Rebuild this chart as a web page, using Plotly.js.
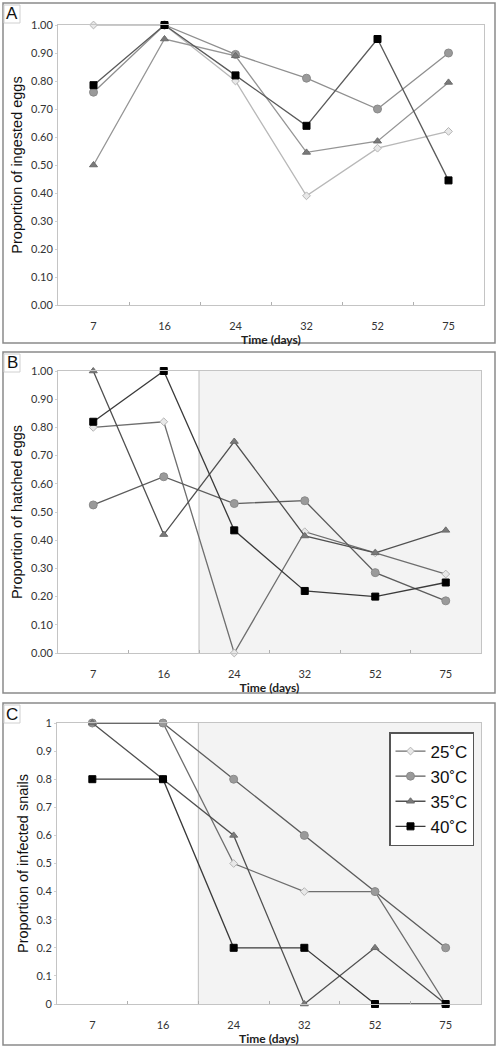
<!DOCTYPE html>
<html><head><meta charset="utf-8">
<script src="https://cdn.plot.ly/plotly-3.0.1.min.js"></script>
<style>html,body{margin:0;padding:0;background:#fff}#c{width:500px;height:1050px}</style>
</head><body><div id="c"></div>
<script>
const days = ["7","16","24","32","52","75"];
const seriesNames = ["25˚C","30˚C","35˚C","40˚C"];
// Panel A: proportion of ingested eggs
const ingested25 = [1.00, 1.00, 0.80, 0.39, 0.56, 0.62];
const ingested30 = [0.76, 1.00, 0.895, 0.81, 0.70, 0.90];
const ingested35 = [0.50, 0.95, 0.89, 0.545, 0.585, 0.795];
const ingested40 = [0.785, 1.00, 0.82, 0.64, 0.95, 0.445];
// Panel B: proportion of hatched eggs
const hatched25 = [0.80, 0.82, 0.00, 0.43, 0.355, 0.28];
const hatched30 = [0.525, 0.625, 0.53, 0.54, 0.285, 0.185];
const hatched35 = [1.00, 0.42, 0.75, 0.415, 0.355, 0.435];
const hatched40 = [0.82, 1.00, 0.435, 0.22, 0.20, 0.25];
// Panel C: proportion of infected snails
const infected25 = [1, 1, 0.5, 0.4, 0.4, 0];
const infected30 = [1, 1, 0.8, 0.6, 0.4, 0.2];
const infected35 = [1, 0.8, 0.6, 0, 0.2, 0];
const infected40 = [0.8, 0.8, 0.2, 0.2, 0, 0];

const markerStyles = [
  {symbol:"diamond", size:6, color:"#e8e8e8", line:{color:"#b5b5b5", width:1}},
  {symbol:"circle", size:8, color:"#9a9a9a", line:{color:"#8a8a8a", width:1}},
  {symbol:"triangle-up", size:7, color:"#7a7a7a", line:{color:"#6a6a6a", width:1}},
  {symbol:"square", size:7, color:"#000000", line:{color:"#000000", width:1}}
];
const lineA = ["#b8b8b8","#8f8f8f","#959595","#5a5a5a"];
const lineBC = ["#6e6e6e","#5c5c5c","#505050","#3a3a3a"];

const panels = [
  {data:[ingested25,ingested30,ingested35,ingested40], lines:lineA, ax:""},
  {data:[hatched25,hatched30,hatched35,hatched40], lines:lineBC, ax:"2"},
  {data:[infected25,infected30,infected35,infected40], lines:lineBC, ax:"3"}
];
const traces = [];
panels.forEach((p, pi) => {
  p.data.forEach((vals, si) => {
    traces.push({
      type:"scatter", mode:"lines+markers", x:days, y:vals,
      xaxis:"x"+p.ax, yaxis:"y"+p.ax, name:seriesNames[si],
      showlegend: pi === 2, cliponaxis:false,
      line:{color:p.lines[si], width:1.3},
      marker:markerStyles[si]
    });
  });
});

const tickFont = {family:"Lato, 'Liberation Sans', sans-serif", size:11, color:"#333"};
function xax(domain, anchor){
  return {domain:domain, anchor:anchor, type:"category", range:[-0.5,5.5],
    showline:true, mirror:true, linecolor:"#c4c4c4", linewidth:1,
    ticks:"inside", tickson:"boundaries", ticklen:3, tickcolor:"#b0b0b0",
    ticklabelstandoff:11,
    showgrid:false, zeroline:false, tickfont:tickFont,
    title:{text:"<b>Time (days)</b>", font:{family:"Lato, 'Liberation Sans', sans-serif", size:12, color:"#222"}, standoff:3}};
}
function yax(domain, anchor, title, fmt){
  return {domain:domain, anchor:anchor, range:[0,1], dtick:0.1, tick0:0, tickformat:fmt,
    showline:true, mirror:true, linecolor:"#c4c4c4", linewidth:1,
    ticks:"outside", ticklen:2, tickcolor:"#d0d0d0",
    showgrid:false, zeroline:false, tickfont:tickFont,
    title:{text:title, font:{family:"'Liberation Sans', Arial, sans-serif", size:14.5, color:"#111"}, standoff:4}};
}

const shade = (ax) => ([
  {type:"rect", xref:"x"+ax, yref:"y"+ax+" domain", x0:1.5, x1:5.5, y0:0, y1:1, fillcolor:"#f3f3f3", line:{width:0}, layer:"below"},
  {type:"line", xref:"x"+ax, yref:"y"+ax+" domain", x0:1.5, x1:1.5, y0:0, y1:1, line:{color:"#bdbdbd", width:1}, layer:"below"}
]);
const box = (y0, y1) => ({type:"rect", xref:"paper", yref:"paper", x0:3/500, x1:495/500, y0:1-y1/1050, y1:1-y0/1050, line:{color:"#8a8a8a", width:1.5}, fillcolor:"rgba(0,0,0,0)"});
const letterBox = (y0) => ({type:"rect", xref:"paper", yref:"paper", x0:4/500, x1:20/500, y0:1-(y0+19)/1050, y1:1-(y0+1)/1050, line:{color:"#d0d0d0", width:1}, fillcolor:"#fff"});
const letter = (t, y0) => ({text:t, xref:"paper", yref:"paper", x:12/500, y:1-(y0+10)/1050, showarrow:false, xanchor:"center", yanchor:"middle", font:{family:"'Liberation Sans', Arial, sans-serif", size:17, color:"#111"}});

const layout = {
  width:500, height:1050, margin:{l:0,r:0,t:0,b:0},
  paper_bgcolor:"#fff", plot_bgcolor:"#fff",
  xaxis: xax([58/500, 484/500], "y"),
  yaxis: yax([1-305/1050, 1-25/1050], "x", "Proportion of ingested eggs", ".2f"),
  xaxis2: xax([58/500, 481/500], "y2"),
  yaxis2: yax([1-653/1050, 1-371/1050], "x2", "Proportion of hatched eggs", ".2f"),
  xaxis3: xax([57/500, 481/500], "y3"),
  yaxis3: yax([1-1004/1050, 1-723/1050], "x3", "Proportion of infected snails", ""),
  shapes: [box(3,343), box(352,693), box(703,1045), ...shade("2"), ...shade("3"), letterBox(4), letterBox(353), letterBox(704)],
  annotations: [letter("A",4), letter("B",353), letter("C",704)],
  legend:{x:474/500, xanchor:"right", y:1-732/1050, yanchor:"top", bgcolor:"#fff",
    bordercolor:"#555", borderwidth:1.5, font:{family:"'Liberation Sans', Arial, sans-serif", size:17, color:"#111"},
    itemwidth:30, tracegroupgap:0},
  showlegend:true
};
Plotly.newPlot("c", traces, layout, {staticPlot:true});
</script></body></html>
